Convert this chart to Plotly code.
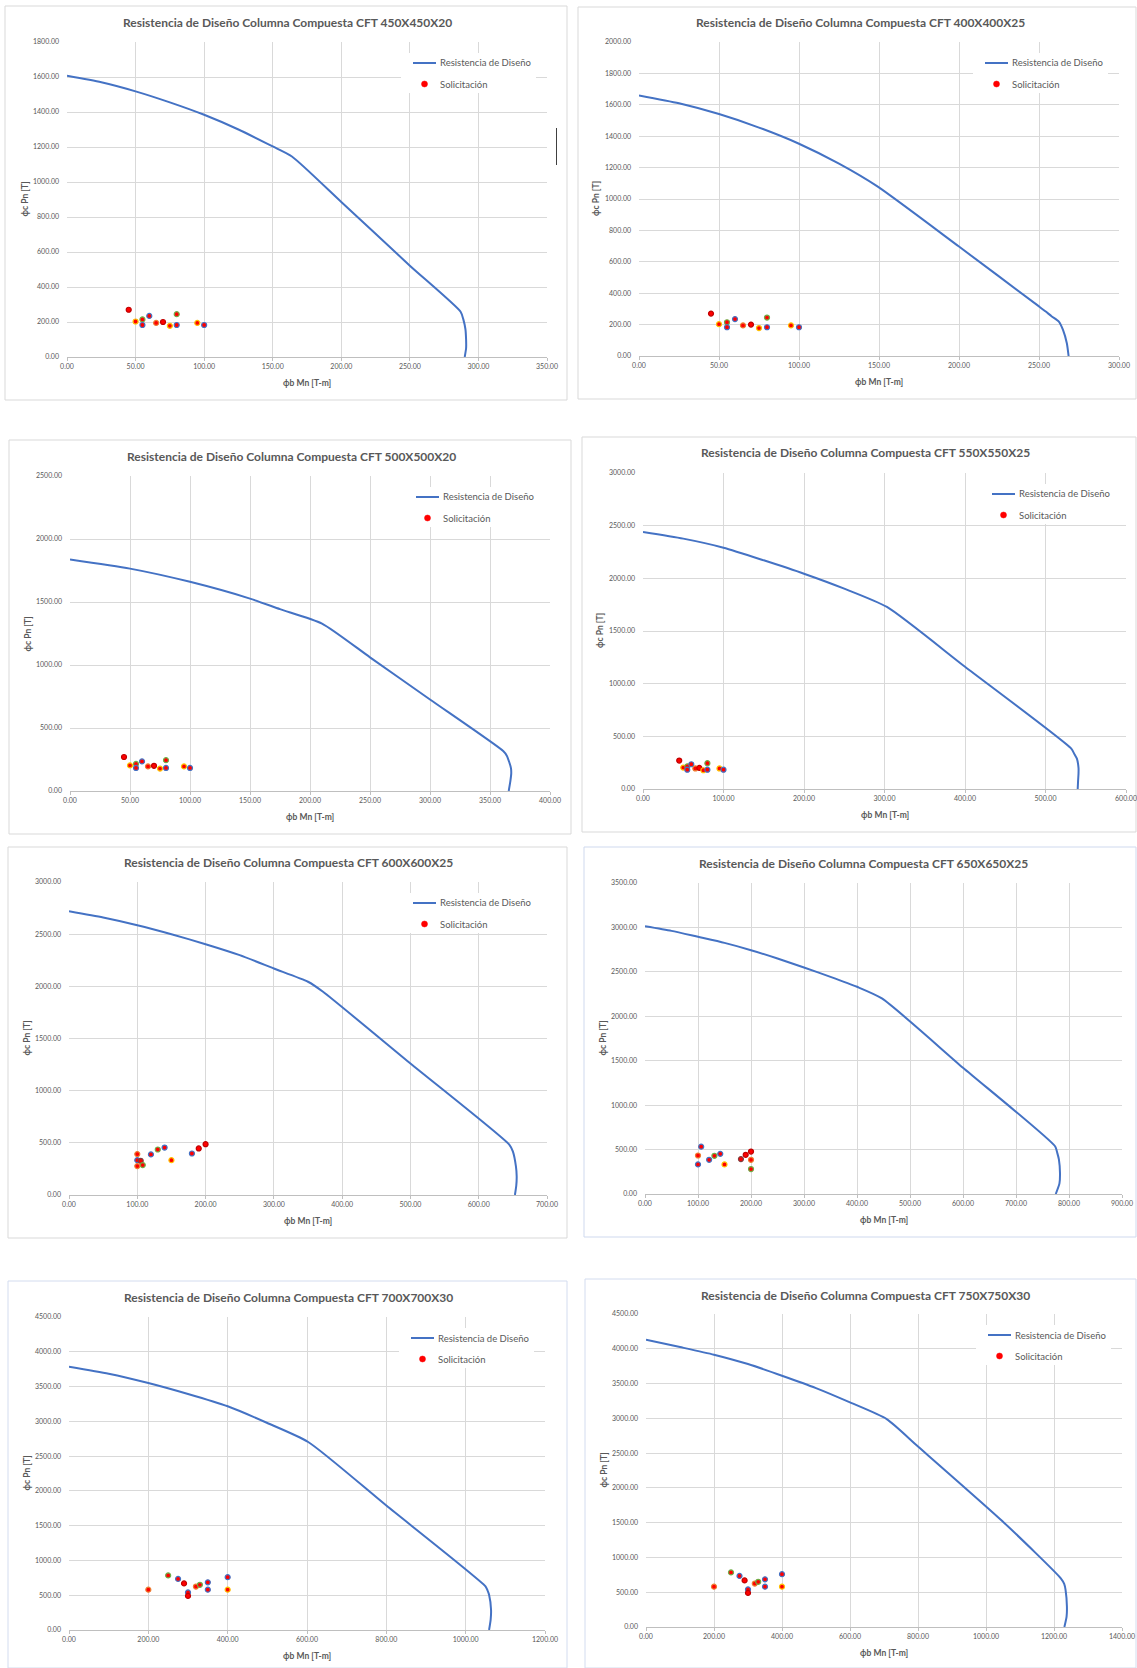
import plotly.graph_objects as go

# ---------------- data ----------------
titles = [
    "Resistencia de Diseño Columna Compuesta CFT 450X450X20",
    "Resistencia de Diseño Columna Compuesta CFT 400X400X25",
    "Resistencia de Diseño Columna Compuesta CFT 500X500X20",
    "Resistencia de Diseño Columna Compuesta CFT 550X550X25",
    "Resistencia de Diseño Columna Compuesta CFT 600X600X25",
    "Resistencia de Diseño Columna Compuesta CFT 650X650X25",
    "Resistencia de Diseño Columna Compuesta CFT 700X700X30",
    "Resistencia de Diseño Columna Compuesta CFT 750X750X30",
]

# design strength curves: phi_b*Mn [T-m] vs phi_c*Pn [T]
mn_450 = [0, 25, 50, 75, 100, 125, 150, 164, 200, 250, 287, 289, 290.5, 291, 291, 290]
pn_450 = [1607, 1570, 1518, 1455, 1384, 1300, 1203, 1146, 886, 522, 259, 215, 160, 100, 50, 0]

mn_400 = [0, 25, 50, 75, 100, 125, 149, 200, 250, 254, 258, 262.4, 265, 267.4, 268.5]
pn_400 = [1660, 1610, 1541, 1455, 1352, 1225, 1080, 697, 316, 285, 252, 219, 166, 81, 0]

mn_500 = [0, 50, 100, 150, 175, 210, 250, 300, 361, 364, 366, 367.5, 367.7, 367, 365.6]
pn_500 = [1837, 1765, 1660, 1527, 1443, 1329, 1061, 726, 317, 280, 230, 180, 140, 80, 0]

mn_550 = [0, 50, 100, 150, 200, 250, 303, 400, 532, 536, 539, 541, 541, 540.5, 540]
pn_550 = [2440, 2377, 2291, 2171, 2044, 1902, 1728, 1160, 383, 330, 288, 200, 146, 80, 0]

mn_600 = [0, 50, 100, 150, 200, 250, 300, 350, 372, 500, 645, 650, 654.5, 655.6, 655, 653]
pn_600 = [2719, 2659, 2585, 2499, 2404, 2299, 2171, 2044, 1948, 1260, 481, 418, 274, 179, 90, 0]

mn_650 = [0, 50, 100, 150, 200, 250, 300, 350, 400, 447, 600, 774, 778, 781, 783, 782, 775]
pn_650 = [3013, 2961, 2894, 2826, 2744, 2650, 2549, 2444, 2332, 2201, 1421, 535, 460, 386, 236, 120, 0]

mn_700 = [0, 100, 200, 300, 400, 500, 603, 800, 1050, 1055, 1059, 1064, 1063, 1059]
pn_700 = [3786, 3685, 3551, 3393, 3216, 2976, 2703, 1789, 628, 570, 508, 292, 150, 0]

mn_750 = [0, 100, 200, 300, 400, 500, 600, 708, 800, 1053, 1220, 1230, 1234, 1238, 1237, 1230.5]
pn_750 = [4131, 4025, 3915, 3780, 3613, 3435, 3229, 2989, 2595, 1500, 700, 620, 533, 293, 150, 0]

# applied loads (Solicitación)
sol_m_small = [45, 50, 55, 55, 60, 65, 70, 75, 80, 80, 95, 100]
sol_p_small = [270, 203, 215, 183, 235, 195, 200, 178, 245, 183, 195, 183]

sol_m_600 = [100, 100, 105, 108, 100, 120, 130, 140, 150, 180, 190, 200]
sol_p_600 = [392, 334, 328, 287, 277, 389, 436, 455, 334, 398, 446, 487]

sol_m_650 = [106, 100, 100, 121, 131, 142, 150, 181, 190, 200, 200, 200]
sol_p_650 = [533, 433, 333, 385, 430, 452, 333, 393, 441, 478, 385, 281]

sol_m_large = [200, 250, 275, 290, 300, 300, 320, 330, 350, 350, 400, 400]
sol_p_large = [580, 785, 735, 670, 540, 490, 625, 650, 685, 580, 760, 580]

curves_m = [mn_450, mn_400, mn_500, mn_550, mn_600, mn_650, mn_700, mn_750]
curves_p = [pn_450, pn_400, pn_500, pn_550, pn_600, pn_650, pn_700, pn_750]
loads_m = [sol_m_small, sol_m_small, sol_m_small, sol_m_small, sol_m_600, sol_m_650, sol_m_large, sol_m_large]
loads_p = [sol_p_small, sol_p_small, sol_p_small, sol_p_small, sol_p_600, sol_p_650, sol_p_large, sol_p_large]

x_max = [350, 300, 400, 600, 700, 900, 1200, 1400]
x_step = [50, 50, 50, 100, 100, 100, 200, 200]
y_max = [1800, 2000, 2500, 3000, 3000, 3500, 4500, 4500]
y_step = [200, 200, 500, 500, 500, 500, 500, 500]

# ---------------- styling / layout ----------------
W, H = 1137, 1668
FONT = "Lato"
TXT = "#595959"
GRID = "#D9D9D9"
BLUE = "#4472C4"

# marker outline colours of the load points
B, O, Y, G, R, D = "#4472C4", "#ED7D31", "#FFC000", "#70AD47", "#C00000", "#7F3F3F"
edge_small = [R, Y, G, B, B, O, R, Y, G, B, Y, B]
edge_600 = [O, B, D, G, O, B, G, B, Y, B, R, R]
edge_650 = [B, O, B, B, G, B, Y, D, R, R, O, G]
edge_large = [O, G, B, R, B, R, O, G, B, B, B, Y]
edges = [edge_small, edge_small, edge_small, edge_small, edge_600, edge_650, edge_large, edge_large]

# chart frames (x0, y0, x1, y1) and plot areas (left, right, top, bottom), in pixels
frames = [(5, 6, 567, 400), (578, 7, 1136, 399), (9, 440, 571, 834), (582, 437, 1136, 832),
          (8, 847, 567, 1238), (584, 847, 1136, 1237), (8, 1281, 567, 1668), (585, 1279, 1136, 1668)]
frame_col = [GRID, GRID, GRID, GRID, GRID, "#CFD9EE", "#D3DCEF", "#D3DCEF"]
plots = [(67, 547, 42, 357), (639, 1119, 42, 356), (70, 550, 476, 791), (643, 1126, 473, 789),
         (69, 547, 882, 1195), (645, 1122, 883, 1194), (69, 545, 1317, 1630), (646, 1122, 1314, 1627)]
title_pos = [(287, 22), (860, 22), (291, 456), (865, 453), (288, 862), (864, 863), (288, 1297), (865, 1295)]
has_legend = [True, True, True, True, True, False, True, True]


def px(x):
    return x / W


def py(y):
    return 1 - y / H


fig = go.Figure()
shapes = []
annotations = []
layout = {}

for i in range(8):
    n = "" if i == 0 else str(i + 1)
    xa, ya = "x" + n, "y" + n
    left, right, top, bottom = plots[i]

    fig.add_trace(go.Scatter(
        x=curves_m[i], y=curves_p[i], mode="lines", name="Resistencia de Diseño",
        line=dict(color=BLUE, width=2, shape="spline", smoothing=0.6),
        xaxis=xa, yaxis=ya, showlegend=False, hoverinfo="x+y"))
    fig.add_trace(go.Scatter(
        x=loads_m[i], y=loads_p[i], mode="markers", name="Solicitación",
        marker=dict(color="#FF0000", size=5, line=dict(color=edges[i], width=1.2)),
        xaxis=xa, yaxis=ya, showlegend=False, hoverinfo="x+y"))

    layout["xaxis" + n] = dict(
        domain=[px(left), px(right)], anchor=ya, range=[0, x_max[i]], automargin=False,
        tick0=0, dtick=x_step[i], tickformat=".2f",
        showgrid=True, gridcolor=GRID, gridwidth=1, zeroline=False,
        showline=True, linecolor="#BFBFBF", linewidth=1,
        ticks="outside", ticklen=3, tickcolor="#BFBFBF",
        tickfont=dict(family=FONT, size=7, color=TXT), fixedrange=True)
    layout["yaxis" + n] = dict(
        domain=[py(bottom), py(top)], anchor=xa, range=[0, y_max[i]], automargin=False,
        tick0=0, dtick=y_step[i], tickformat=".2f",
        showgrid=True, gridcolor=GRID, gridwidth=1, zeroline=False,
        showline=False, ticks="", ticklabelstandoff=7,
        tickfont=dict(family=FONT, size=7, color=TXT), fixedrange=True)

    # chart frame
    fx0, fy0, fx1, fy1 = frames[i]
    shapes.append(dict(type="rect", xref="paper", yref="paper", layer="below",
                       x0=px(fx0), x1=px(fx1), y0=py(fy1), y1=py(fy0),
                       line=dict(color=frame_col[i], width=1), fillcolor="white"))

    # chart title and axis titles
    tx, ty = title_pos[i]
    annotations.append(dict(text="<b>" + titles[i] + "</b>", xref="paper", yref="paper",
                            x=px(tx), y=py(ty), xanchor="center", yanchor="middle", showarrow=False,
                            font=dict(family=FONT, size=12, color=TXT)))
    annotations.append(dict(text="<b>ϕb Mn [T-m]</b>", xref="paper", yref="paper",
                            x=px((left + right) / 2), y=py(bottom + 26), xanchor="center",
                            yanchor="middle", showarrow=False,
                            font=dict(family=FONT, size=8.5, color=TXT)))
    annotations.append(dict(text="<b>ϕc Pn [T]</b>", xref="paper", yref="paper",
                            x=px(left - 43), y=py((top + bottom) / 2), xanchor="center",
                            yanchor="middle", textangle=-90, showarrow=False,
                            font=dict(family=FONT, size=8.5, color=TXT)))

    # legend box
    if has_legend[i]:
        lx = right - 134
        shapes.append(dict(type="rect", xref="paper", yref="paper", layer="above",
                           x0=px(right - 146), x1=px(right - 11), y0=py(top + 51), y1=py(top + 11),
                           line=dict(width=0), fillcolor="white"))
        shapes.append(dict(type="line", xref="paper", yref="paper", layer="above",
                           x0=px(lx), x1=px(lx + 23), y0=py(top + 21), y1=py(top + 21),
                           line=dict(color=BLUE, width=2)))
        shapes.append(dict(type="circle", xref="paper", yref="paper", layer="above",
                           x0=px(lx + 8.5), x1=px(lx + 14.5), y0=py(top + 45), y1=py(top + 39),
                           line=dict(color="#FF0000", width=0.5), fillcolor="#FF0000"))
        for k, label in enumerate(["Resistencia de Diseño", "Solicitación"]):
            annotations.append(dict(text=label, xref="paper", yref="paper",
                                    x=px(lx + 25), y=py(top + 21 + 21 * k), xanchor="left",
                                    yanchor="middle", showarrow=False,
                                    font=dict(family=FONT, size=9.5, color=TXT)))

# text cursor mark beside the first chart
shapes.append(dict(type="line", xref="paper", yref="paper", layer="above",
                   x0=px(556.5), x1=px(556.5), y0=py(165), y1=py(128),
                   line=dict(color="#404040", width=1)))

fig.update_layout(
    width=W, height=H, margin=dict(l=0, r=0, t=0, b=0, autoexpand=False), autosize=False,
    paper_bgcolor="white", plot_bgcolor="white",
    showlegend=False, shapes=shapes, annotations=annotations,
    font=dict(family=FONT, color=TXT), **layout)

fig.write_html("out.html", config={"displayModeBar": False})
